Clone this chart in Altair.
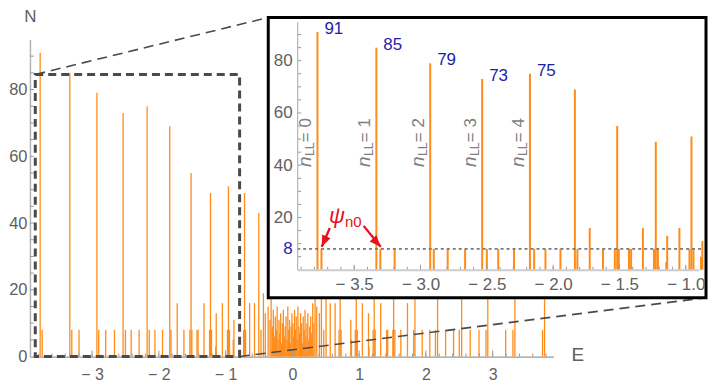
import altair as alt
import pandas as pd
import numpy as np

# ---------------- data ----------------
E_vals = [
    -3.777, -3.747, -3.333, -3.303, -3.195, -2.927, -2.900, -2.795, -2.664, -2.535,
    -2.500, -2.414, -2.295, -2.175, -2.143, -2.058, -1.945, -1.836, -1.817, -1.724,
    -1.624, -1.535, -1.517, -1.505, -1.428, -1.412, -1.323, -1.240, -1.226, -1.210,
    -1.147, -1.140, -1.048, -0.972, -0.957, -0.942, -0.885, -0.875,
    -0.730, -0.716, -0.700, -0.640, -0.567, -0.503, -0.470, -0.433, -0.405, -0.363,
    -0.335, -0.318, -0.300, -0.285, -0.270, -0.255, -0.240, -0.228, -0.215, -0.200,
    -0.188, -0.175, -0.160, -0.148, -0.135, -0.120, -0.108, -0.095, -0.080, -0.068,
    -0.055, -0.042, -0.030, -0.018, -0.006,
    0.008, 0.020, 0.033, 0.045, 0.058, 0.070, 0.083, 0.097, 0.110, 0.123,
    0.137, 0.150, 0.163, 0.177, 0.190, 0.203, 0.218, 0.232, 0.245, 0.260,
    0.275, 0.290, 0.305, 0.322, 0.340, 0.365, 0.405, 0.435, 0.470, 0.505,
    0.567, 0.640, 0.700, 0.716, 0.730, 0.875, 0.885, 0.942, 0.957, 0.972,
    1.048, 1.140, 1.147, 1.210, 1.226, 1.240, 1.323, 1.412, 1.428, 1.505,
    1.517, 1.535, 1.624, 1.724, 1.817, 1.836, 1.945, 2.058, 2.143, 2.175,
    2.295, 2.414, 2.500, 2.535, 2.664, 2.795, 2.900, 2.927, 3.195, 3.303,
    3.333, 3.747, 3.777,
]
N_vals = [
    91, 8, 85, 8, 8, 79, 8, 8, 8, 73,
    8, 8, 8, 75, 8, 8, 8, 69, 8, 16,
    8, 8, 55, 8, 8, 8, 16, 8, 49, 8,
    3, 13, 16, 8, 51, 8, 5, 11,
    8, 49, 8, 16, 16, 43, 8, 19, 13, 15,
    11, 21, 9, 14, 6, 12, 8, 15, 5, 11,
    7, 13, 4, 10, 14, 6, 9, 12, 5, 15,
    8, 11, 4, 9, 13,
    10, 6, 14, 8, 12, 5, 15, 9, 7, 13,
    10, 4, 12, 8, 14, 6, 10, 13, 5, 9,
    12, 7, 16, 10, 22, 15, 13, 19, 8, 43,
    16, 16, 8, 49, 8, 11, 5, 8, 51, 8,
    16, 13, 3, 8, 49, 8, 16, 8, 8, 8,
    55, 8, 8, 16, 8, 69, 8, 8, 8, 75,
    8, 8, 8, 73, 8, 8, 8, 79, 8, 8,
    85, 8, 91,
]

peak_E = [-3.777, -3.333, -2.927, -2.535, -2.175]
peak_N = [91, 85, 79, 73, 75]
peak_label = ["91", "85", "79", "73", "75"]
n_ll = ["0", "1", "2", "3", "4"]

zoom_E = [-3.85, -0.79]
zoom_N = [0, 84.5]

threshold_N = 8

arrow_E0 = [-3.684, -3.429]
arrow_N0 = [16.0, 16.8]
arrow_E1 = [-3.745, -3.300]
arrow_N1 = [8.8, 8.8]
arrow_angle = [204, 137]

main_x_ticks = [-3, -2, -1, 0, 1, 2, 3]
main_y_ticks = [0, 20, 40, 60, 80]
inset_x_ticks = [-3.5, -3.0, -2.5, -2.0, -1.5, -1.0]
inset_y_ticks = [8, 20, 40, 60, 80]

# ---------------- style ----------------
ORANGE = "#ff8c1a"
BLUE = "#1e1ea8"
RED = "#e8101a"
TXT = "#606060"
FONT = "Liberation Sans"
W, H = 525, 318

bars = pd.DataFrame({"E": E_vals, "N": N_vals})

main_x = alt.Scale(domain=[-3.93, 3.91], nice=False, zero=False)
main_y = alt.Scale(domain=[0, 95], nice=False)
ins_x = alt.Scale(domain=[-3.93, -0.9], range=[268, 671], nice=False, zero=False)
ins_y = alt.Scale(domain=[0, 95], range=[231, -18], nice=False)

neg_int = "datum.value < 0 ? '\u2212 ' + format(-datum.value, 'd') : format(datum.value, 'd')"
neg_dec = "datum.value < 0 ? '\u2212 ' + format(-datum.value, '.1f') : format(datum.value, '.1f')"

x_main_axis = alt.Axis(
    values=main_x_ticks, ticks=False, tickSize=0, grid=False,
    domainColor="#999999", domainWidth=1.2,
    labelColor=TXT, labelFont=FONT, labelFontSize=16, labelPadding=10.5,
    labelExpr=neg_int,
    title="E", titleFont=FONT, titleFontSize=19, titleFontWeight="normal",
    titleColor=TXT, titleX=549, titleY=-2, titleAlign="center",
    titleBaseline="middle", titleAngle=0,
)
y_main_axis = alt.Axis(
    values=main_y_ticks, ticks=False, tickSize=0, grid=False,
    domainColor="#b5b5b5", domainWidth=1.5,
    labelColor=TXT, labelFont=FONT, labelFontSize=16.5, labelPadding=3,
    title="N", titleFont=FONT, titleFontSize=17, titleFontWeight="normal",
    titleColor=TXT, titleX=0, titleY=-30.5, titleAlign="center",
    titleBaseline="top", titleAngle=0,
)

one = pd.DataFrame({"a": [0]})

main_bars = alt.Chart(bars).mark_rule(color=ORANGE, strokeWidth=1.3).encode(
    x=alt.X("E:Q", scale=main_x, axis=x_main_axis),
    y=alt.Y("N:Q", scale=main_y, axis=y_main_axis),
    y2=alt.datum(0),
)

mx_minor = pd.DataFrame({"E": [round(v, 1) for v in np.arange(-3.8, 3.81, 0.2)]})
mx_major = pd.DataFrame({"E": main_x_ticks})
my_ticks = pd.DataFrame({"N": list(range(5, 95, 5))})

t_mx_minor = alt.Chart(mx_minor).mark_rule(color="#9a9a9a", strokeWidth=1).encode(
    x="E:Q", y=alt.value(H), y2=alt.value(H - 3))
t_mx_major = alt.Chart(mx_major).mark_rule(color="#9a9a9a", strokeWidth=1).encode(
    x="E:Q", y=alt.value(H), y2=alt.value(H - 6))
t_my = alt.Chart(my_ticks).mark_rule(color="#9a9a9a", strokeWidth=1).encode(
    y="N:Q", x=alt.value(0), x2=alt.value(4))

zoom_rect = alt.Chart(one).mark_rect(
    filled=False, stroke="#4a4a4a", strokeWidth=3, strokeDash=[8, 5]
).encode(
    x=alt.datum(zoom_E[0]), x2=alt.datum(zoom_E[1]),
    y=alt.datum(zoom_N[0]), y2=alt.datum(zoom_N[1]),
)

connA = alt.Chart(one).mark_rule(color="#4a4a4a", strokeWidth=1.6, strokeDash=[10, 6]).encode(
    x=alt.datum(zoom_E[0]), y=alt.datum(zoom_N[1]),
    x2=alt.value(239), y2=alt.value(-22))
connB = alt.Chart(one).mark_rule(color="#4a4a4a", strokeWidth=1.6, strokeDash=[10, 6]).encode(
    x=alt.datum(zoom_E[1]), y=alt.datum(zoom_N[0]),
    x2=alt.value(678), y2=alt.value(259))

main = alt.layer(main_bars, t_mx_minor, t_mx_major, t_my, zoom_rect, connA, connB)

# ---------------- inset ----------------
x_ins_axis = alt.Axis(
    orient="bottom", offset=-(H - 231), values=inset_x_ticks,
    ticks=False, tickSize=0, grid=False, zindex=2,
    domainColor="#cccccc", domainWidth=2,
    labelColor=TXT, labelFont=FONT, labelFontSize=17, labelPadding=7,
    labelExpr=neg_dec, title=None,
)
y_ins_axis = alt.Axis(
    orient="left", offset=-268, values=inset_y_ticks,
    ticks=False, tickSize=0, grid=False, zindex=2,
    domainColor="#b5b5b5", domainWidth=1.2,
    labelColor={"condition": {"test": "datum.value == 8", "value": BLUE}, "value": TXT},
    labelFont=FONT, labelFontSize=17, labelPadding=5, title=None,
)

frame = alt.Chart(one).mark_rect(fill="white", stroke="black", strokeWidth=3).encode(
    x=alt.value(239), x2=alt.value(678), y=alt.value(-22), y2=alt.value(259))

ins_bars = alt.Chart(bars).transform_filter("datum.E <= -0.87").mark_rule(
    color=ORANGE, strokeWidth=2
).encode(
    x=alt.X("E:Q", scale=ins_x, axis=x_ins_axis),
    y=alt.Y("N:Q", scale=ins_y, axis=y_ins_axis),
    y2=alt.datum(0),
)

ix_minor = pd.DataFrame({"E": [round(v, 1) for v in np.arange(-3.9, -0.95, 0.1)]})
ix_major = pd.DataFrame({"E": inset_x_ticks})
iy_ticks = pd.DataFrame({"N": list(range(5, 95, 5))})

t_ix_minor = alt.Chart(ix_minor).mark_rule(color="#9a9a9a", strokeWidth=1).encode(
    x="E:Q", y=alt.value(231), y2=alt.value(228))
t_ix_major = alt.Chart(ix_major).mark_rule(color="#9a9a9a", strokeWidth=1).encode(
    x="E:Q", y=alt.value(231), y2=alt.value(226))
t_iy = alt.Chart(iy_ticks).mark_rule(color="#9a9a9a", strokeWidth=1).encode(
    y="N:Q", x=alt.value(268), x2=alt.value(272))

dotted = alt.Chart(one).mark_rule(color="#7a7a7a", strokeWidth=1.6, strokeDash=[3, 3]).encode(
    x=alt.datum(-3.93), x2=alt.datum(-0.88), y=alt.datum(threshold_N))

peaks = pd.DataFrame({"E": peak_E, "N": peak_N, "label": peak_label, "k": n_ll})
peak_text = alt.Chart(peaks).mark_text(
    align="left", baseline="middle", dx=7, dy=-3, fontSize=17, font=FONT, color=BLUE
).encode(x="E:Q", y="N:Q", text="label:N")

n_text = alt.Chart(peaks).mark_text(
    text="n", angle=270, align="left", baseline="alphabetic", fontStyle="italic",
    fontSize=19, font=FONT, color="#808080", dx=0, dy=-6
).encode(x="E:Q", y=alt.value(128))
ll_text = alt.Chart(peaks).mark_text(
    text="LL", angle=270, align="left", baseline="alphabetic",
    fontSize=12.5, font=FONT, color="#808080", dx=11, dy=-3
).encode(x="E:Q", y=alt.value(128))
eq_text = alt.Chart(peaks).transform_calculate(t="' = ' + datum.k").mark_text(
    angle=270, align="left", baseline="alphabetic",
    fontSize=17, font=FONT, color="#808080", dx=25, dy=-6
).encode(x="E:Q", y=alt.value(128), text="t:N")

psi = alt.Chart(one).mark_text(
    text="\u03c8", align="center", baseline="alphabetic", fontStyle="italic",
    fontSize=22, font=FONT, color=RED
).encode(x=alt.value(308), y=alt.value(184))
psi_sub = alt.Chart(one).mark_text(
    text="n0", align="left", baseline="alphabetic", fontSize=15, font=FONT, color=RED
).encode(x=alt.value(316), y=alt.value(188))

arrows = pd.DataFrame({"E0": arrow_E0, "N0": arrow_N0, "E1": arrow_E1, "N1": arrow_N1,
                       "ang": arrow_angle})
shafts = alt.Chart(arrows).mark_rule(color=RED, strokeWidth=2.3).encode(
    x="E0:Q", y="N0:Q", x2="E1:Q", y2="N1:Q")
heads = alt.Chart(arrows).mark_point(
    shape="M0,0L0.4,1L-0.4,1Z", filled=True, size=520, color=RED, opacity=1,
    strokeWidth=0
).encode(x="E1:Q", y="N1:Q", angle=alt.Angle("ang:Q", scale=None))

inset = alt.layer(frame, ins_bars, t_ix_minor, t_ix_major, t_iy, dotted, peak_text,
                  n_text, ll_text, eq_text, psi, psi_sub, shafts, heads)

chart = alt.layer(main, inset).resolve_scale(
    x="independent", y="independent"
).properties(
    width=W, height=H,
    padding={"left": 22, "top": 31, "right": 155, "bottom": 27},
    autosize=alt.AutoSizeParams(type="none"),
).configure_view(stroke=None).configure_text(font=FONT)

chart.save("out.html", embed_options={"renderer": "svg", "actions": False})
